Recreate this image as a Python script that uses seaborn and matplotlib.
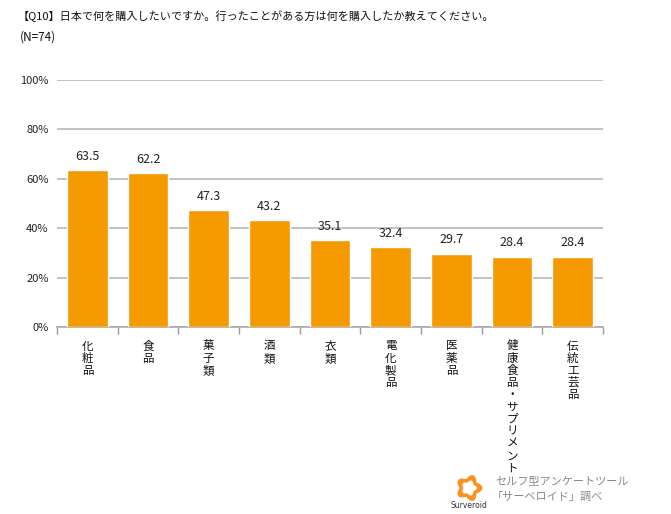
import numpy as np
import pandas as pd
import seaborn as sns
import matplotlib.pyplot as plt
from matplotlib.ticker import FuncFormatter, FixedLocator

categories = ["化粧品", "食品", "菓子類", "酒類", "衣類", "電化製品", "医薬品", "健康食品・サプリメント", "伝統工芸品"]
values = [63.5, 62.2, 47.3, 43.2, 35.1, 32.4, 29.7, 28.4, 28.4]
yticks = [0, 20, 40, 60, 80, 100]

sns.set_theme(style="white")
plt.rcParams['font.family'] = ['Noto Sans CJK JP', 'DejaVu Sans']

df = pd.DataFrame({"item": categories, "pct": values})

fig = plt.figure(figsize=(6.71, 5.14), dpi=100)
ax = fig.add_axes([57 / 671, 1 - 327 / 514, 546 / 671, 247 / 514])

sns.barplot(data=df, x="item", y="pct", color="#F59A00", saturation=1,
            width=0.67, ax=ax, zorder=3)

ax.set_ylim(0, 100)
ax.set_xlim(-0.5, len(categories) - 0.5)
ax.set_yticks(yticks)
ax.yaxis.set_major_formatter(FuncFormatter(lambda v, p: f"{v:.0f}%"))
ax.yaxis.grid(True, color="#b8b8b8", linewidth=1.2, zorder=0)
ax.tick_params(axis="y", length=0, labelsize=8, colors="#222222", pad=6)

# vertical stacked labels
ax.set_xticks(range(len(categories)))
ax.set_xticklabels(["\n".join(c) for c in categories], fontsize=8.3,
                   va="top", linespacing=0.92, color="#111111")
ax.tick_params(axis="x", length=0, pad=9)
# small ticks between the categories
ax.xaxis.set_minor_locator(FixedLocator(np.arange(-0.5, len(categories), 1)))
ax.tick_params(axis="x", which="minor", bottom=True, length=5, color="#999999",
               width=1, direction="out")

for s in ["top", "right", "left"]:
    ax.spines[s].set_visible(False)
ax.spines["bottom"].set_color("#aaaaaa")
ax.spines["bottom"].set_linewidth(1.2)
ax.set_xlabel("")
ax.set_ylabel("")

for i, v in enumerate(values):
    ax.text(i, v + 3, f"{v:.1f}", ha="center", va="bottom", fontsize=9, color="#222222")

fig.text(18 / 671, 1 - 16 / 514, "【Q10】日本で何を購入したいですか。行ったことがある方は何を購入したか教えてください。",
         fontsize=8, va="center", ha="left", color="#111111")
fig.text(20 / 671, 1 - 37 / 514, "(N=74)", fontsize=8.5, va="center", ha="left", color="#111111")

# footer logo and credit
lax = fig.add_axes([455 / 671, 1 - 502 / 514, 28 / 671, 28 / 514])
t = np.linspace(0, 2 * np.pi, 300)
r = 1 + 0.18 * np.cos(5 * t)
lax.fill(r * np.cos(t), r * np.sin(t), color="#F7931E")
lax.fill(0.55 * r * np.cos(t), 0.55 * r * np.sin(t), color="white")
lax.set_xlim(-1.3, 1.3)
lax.set_ylim(-1.3, 1.3)
lax.set_aspect("equal")
lax.axis("off")
fig.text(469 / 671, 1 - 506 / 514, "Surveroid", fontsize=5.5, ha="center", va="center", color="#333333",
         family=["DejaVu Sans"])
fig.text(495 / 671, 1 - 481 / 514, "セルフ型アンケートツール", fontsize=8, ha="left", va="center", color="#888888")
fig.text(492 / 671, 1 - 497 / 514, "「サーベロイド」調べ", fontsize=8, ha="left", va="center", color="#888888")

fig.savefig("out.png", dpi=100)
